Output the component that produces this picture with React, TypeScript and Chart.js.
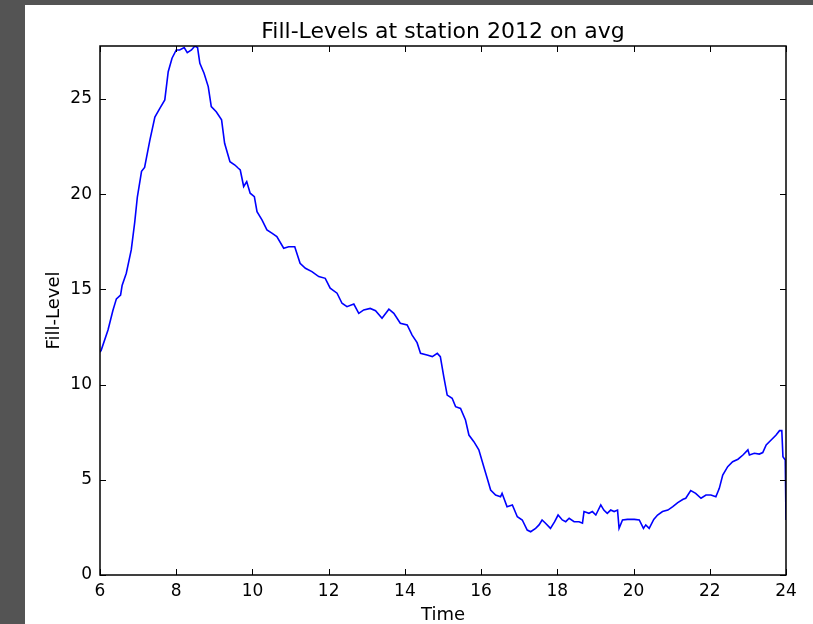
import { useEffect, useRef } from "react";
import { Chart, registerables } from "chart.js";

Chart.register(...registerables);

// Hour of day (decimal) and average fill level at station 2012
const hours = [
  6.0, 6.03, 6.21, 6.34, 6.43, 6.54, 6.58, 6.69, 6.82, 6.91, 6.98, 7.09, 7.17, 7.31, 7.44, 7.57,
  7.7, 7.79, 7.89, 8.0, 8.09, 8.21, 8.29, 8.4, 8.49, 8.56, 8.62, 8.73, 8.84, 8.92, 9.05, 9.19,
  9.27, 9.41, 9.54, 9.63, 9.68, 9.77, 9.85, 9.94, 10.05, 10.12, 10.25, 10.38, 10.51, 10.64, 10.82, 10.95,
  11.11, 11.25, 11.39, 11.56, 11.74, 11.91, 12.04, 12.22, 12.35, 12.48, 12.66, 12.79, 12.92, 13.09, 13.23, 13.4,
  13.58, 13.71, 13.88, 14.06, 14.19, 14.32, 14.41, 14.58, 14.72, 14.85, 14.93, 15.02, 15.11, 15.24, 15.33, 15.46,
  15.59, 15.68, 15.81, 15.94, 16.07, 16.16, 16.25, 16.38, 16.51, 16.55, 16.68, 16.82, 16.95, 17.08, 17.21, 17.3,
  17.43, 17.52, 17.6, 17.69, 17.82, 17.93, 18.02, 18.13, 18.22, 18.31, 18.44, 18.57, 18.66, 18.7, 18.83, 18.92,
  19.01, 19.14, 19.22, 19.31, 19.4, 19.49, 19.58, 19.62, 19.71, 19.84, 20.02, 20.15, 20.26, 20.32, 20.41, 20.53,
  20.63, 20.76, 20.9, 21.03, 21.16, 21.3, 21.37, 21.5, 21.63, 21.77, 21.9, 22.03, 22.16, 22.25, 22.34, 22.47,
  22.6, 22.74, 22.87, 23.0, 23.04, 23.17, 23.3, 23.39, 23.48, 23.61, 23.74, 23.83, 23.89, 23.92, 23.98, 24.0,
];

const levels = [
  11.7, 11.8, 12.87, 13.9, 14.5, 14.7, 15.2, 15.85, 17.07, 18.5, 19.85, 21.2, 21.4, 22.85, 24.05, 24.5,
  24.95, 26.43, 27.14, 27.57, 27.57, 27.7, 27.43, 27.57, 27.78, 27.7, 26.87, 26.35, 25.65, 24.6, 24.33, 23.9,
  22.67, 21.7, 21.53, 21.36, 21.27, 20.4, 20.66, 20.05, 19.87, 19.08, 18.65, 18.12, 17.95, 17.77, 17.16, 17.24,
  17.24, 16.37, 16.11, 15.93, 15.67, 15.58, 15.06, 14.8, 14.27, 14.09, 14.23, 13.74, 13.92, 14.0, 13.88, 13.48,
  13.96, 13.74, 13.22, 13.13, 12.6, 12.2, 11.64, 11.55, 11.47, 11.64, 11.47, 10.42, 9.45, 9.28, 8.84, 8.75,
  8.14, 7.35, 7.0, 6.57, 5.69, 5.08, 4.46, 4.2, 4.11, 4.29, 3.59, 3.68, 3.06, 2.89, 2.36, 2.27,
  2.45, 2.63, 2.89, 2.72, 2.45, 2.8, 3.15, 2.89, 2.8, 2.98, 2.8, 2.8, 2.72, 3.33, 3.24, 3.33,
  3.15, 3.68, 3.41, 3.24, 3.41, 3.33, 3.41, 2.45, 2.89, 2.92, 2.92, 2.89, 2.45, 2.63, 2.45, 2.92,
  3.15, 3.33, 3.41, 3.59, 3.8, 3.98, 4.03, 4.43, 4.29, 4.03, 4.2, 4.2, 4.11, 4.55, 5.25, 5.69,
  5.95, 6.08, 6.3, 6.57, 6.3, 6.39, 6.35, 6.43, 6.83, 7.09, 7.35, 7.58, 7.58, 6.21, 6.04, 2.89,
];

const xTicks = [6, 8, 10, 12, 14, 16, 18, 20, 22, 24];
const yTicks = [0, 5, 10, 15, 20, 25];
const chartTitle = "Fill-Levels at station 2012 on avg";

const FONT = "'DejaVu Sans', 'Bitstream Vera Sans', sans-serif";
const TICK_LEN = 6;

// Title centred over the plotting area
const axesTitle = {
  id: "axesTitle",
  afterDraw(chart: any) {
    const { ctx, chartArea: a } = chart;
    ctx.save();
    ctx.fillStyle = "#000";
    ctx.font = `22px ${FONT}`;
    ctx.textAlign = "center";
    ctx.textBaseline = "alphabetic";
    ctx.fillText(chartTitle, (a.left + a.right) / 2, a.top - 8);
    ctx.restore();
  },
};

// Boxed axes with inward-pointing tick marks on all four sides
const frameTicks = {
  id: "frameTicks",
  afterDatasetsDraw(chart: any) {
    const { ctx, chartArea: a, scales } = chart;
    const xs = scales.x;
    const ys = scales.y;
    ctx.save();
    ctx.strokeStyle = "#000";
    ctx.lineWidth = 1;
    ctx.beginPath();
    for (const t of xTicks) {
      const px = Math.round(xs.getPixelForValue(t)) + 0.5;
      ctx.moveTo(px, a.bottom);
      ctx.lineTo(px, a.bottom - TICK_LEN);
      ctx.moveTo(px, a.top);
      ctx.lineTo(px, a.top + TICK_LEN);
    }
    for (const t of yTicks) {
      const py = Math.round(ys.getPixelForValue(t)) + 0.5;
      ctx.moveTo(a.left, py);
      ctx.lineTo(a.left + TICK_LEN, py);
      ctx.moveTo(a.right, py);
      ctx.lineTo(a.right - TICK_LEN, py);
    }
    ctx.stroke();
    ctx.lineWidth = 1.5;
    ctx.strokeRect(a.left, a.top, a.right - a.left, a.bottom - a.top);
    ctx.restore();
  },
};

export default function App() {
  const canvasRef = useRef<HTMLCanvasElement | null>(null);

  useEffect(() => {
    const canvas = canvasRef.current;
    if (!canvas) return;
    const points = hours.map((h, i) => ({ x: h, y: levels[i] }));
    const chart = new Chart(canvas, {
      type: "line",
      data: {
        datasets: [
          {
            data: points,
            borderColor: "#0000ff",
            borderWidth: 1.6,
            pointRadius: 0,
            tension: 0,
            fill: false,
          },
        ],
      },
      options: {
        animation: false,
        responsive: false,
        maintainAspectRatio: false,
        layout: { padding: { left: 0, right: 27, top: 41, bottom: 0 } },
        plugins: {
          legend: { display: false },
          tooltip: { enabled: false },
          title: { display: false },
        },
        scales: {
          x: {
            type: "linear",
            min: xTicks[0],
            max: xTicks[xTicks.length - 1],
            grid: { display: false, drawTicks: false },
            border: { display: false },
            ticks: {
              stepSize: 2,
              autoSkip: false,
              maxRotation: 0,
              includeBounds: false,
              padding: 6,
              color: "#000",
              font: { family: FONT, size: 17 },
            },
            title: {
              display: true,
              text: "Time",
              color: "#000",
              font: { family: FONT, size: 18 },
              padding: { top: 0, bottom: -2 },
            },
            afterFit(scale: any) {
              scale.height = 49;
              scale.paddingLeft = 0;
              scale.paddingRight = 0;
            },
          },
          y: {
            type: "linear",
            min: 0,
            max: Math.max(...levels),
            grid: { display: false, drawTicks: false },
            border: { display: false },
            ticks: {
              stepSize: 5,
              includeBounds: false,
              padding: 8,
              color: "#000",
              font: { family: FONT, size: 17 },
            },
            title: {
              display: true,
              text: "Fill-Level",
              color: "#000",
              font: { family: FONT, size: 18 },
              padding: { top: 19, bottom: 0 },
            },
            afterFit(scale: any) {
              scale.width = 75;
              scale.paddingTop = 0;
              scale.paddingBottom = 0;
            },
          },
        },
      },
      plugins: [frameTicks, axesTitle],
    });
    return () => chart.destroy();
  }, []);

  return (
    <div
      style={{
        position: "fixed",
        left: 0,
        top: 0,
        width: 813,
        height: 624,
        background: "#545454",
        overflow: "hidden",
      }}
    >
      <div
        style={{
          position: "absolute",
          left: 25,
          top: 5,
          width: 788,
          height: 619,
          background: "#ffffff",
        }}
      >
        <canvas ref={canvasRef} width={788} height={619} style={{ display: "block" }} />
      </div>
    </div>
  );
}
